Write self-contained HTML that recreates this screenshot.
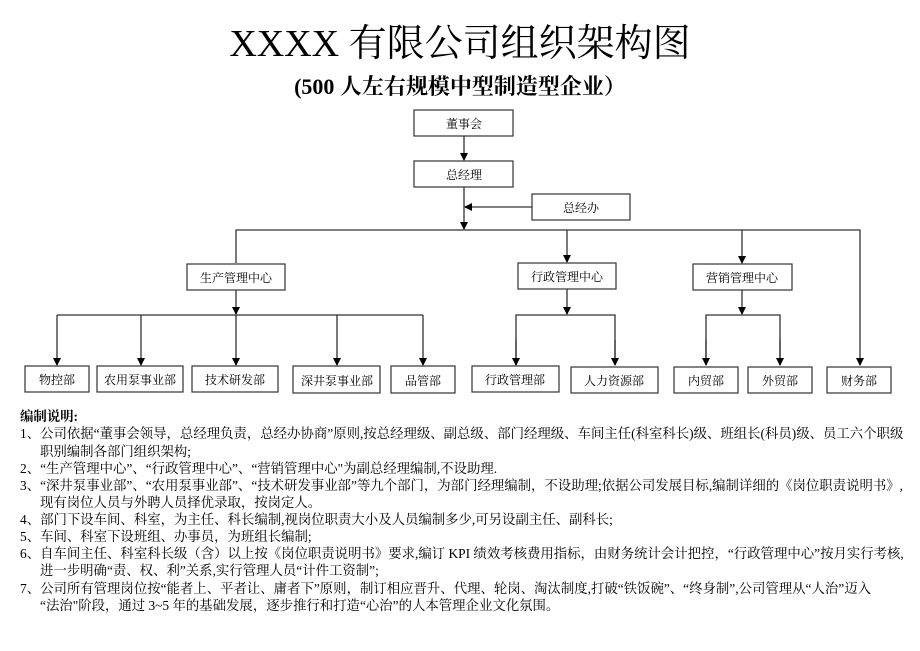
<!DOCTYPE html>
<html><head><meta charset="utf-8">
<style>
body{margin:0;background:#fff;width:920px;height:651px;position:relative;overflow:hidden;font-family:"Liberation Serif","Noto Serif CJK SC",serif;color:#000}
.t{position:absolute;left:0;width:920px;text-align:center}
.l{position:absolute;white-space:nowrap;font-size:13.4px;line-height:17px}
</style></head><body>
<div class="t" style="top:20px;font-size:38px;line-height:48px">XXXX 有限公司组织架构图</div>
<div class="t" style="top:72px;font-size:22px;font-weight:bold;line-height:30px">(500 人左右规模中型制造型企业）</div>
<svg width="920" height="400" style="position:absolute;left:0;top:0" font-family="Liberation Serif, Noto Serif CJK SC, serif" font-size="12">
<defs><marker id="a" markerWidth="8" markerHeight="8" refX="7" refY="4" orient="auto" markerUnits="userSpaceOnUse"><path d="M0,0L8,4L0,8z" fill="#000"/></marker></defs>
<g stroke="#333" stroke-width="1.3" fill="none">
<line x1="464" y1="136" x2="464" y2="160" marker-end="url(#a)"/>
<line x1="464" y1="187" x2="464" y2="229" marker-end="url(#a)"/>
<line x1="532" y1="207" x2="465" y2="207" marker-end="url(#a)"/>
<polyline points="236,263 236,230 860,230 860,365" marker-end="url(#a)"/>
<line x1="567" y1="230" x2="567" y2="262" marker-end="url(#a)"/>
<line x1="742" y1="230" x2="742" y2="263" marker-end="url(#a)"/>
<line x1="236" y1="290" x2="236" y2="314" marker-end="url(#a)"/>
<line x1="57" y1="315" x2="423" y2="315"/>
<line x1="57" y1="315" x2="57" y2="365" marker-end="url(#a)"/>
<line x1="141" y1="315" x2="141" y2="365" marker-end="url(#a)"/>
<line x1="236" y1="315" x2="236" y2="365" marker-end="url(#a)"/>
<line x1="337" y1="315" x2="337" y2="365" marker-end="url(#a)"/>
<line x1="423" y1="315" x2="423" y2="365" marker-end="url(#a)"/>
<line x1="567" y1="289" x2="567" y2="314" marker-end="url(#a)"/>
<polyline points="516,365 516,315 615,315 615,365"/>
<line x1="516" y1="340" x2="516" y2="365" marker-end="url(#a)"/>
<line x1="615" y1="340" x2="615" y2="365" marker-end="url(#a)"/>
<line x1="742" y1="290" x2="742" y2="314" marker-end="url(#a)"/>
<polyline points="706,365 706,315 780,315 780,365"/>
<line x1="706" y1="340" x2="706" y2="365" marker-end="url(#a)"/>
<line x1="780" y1="340" x2="780" y2="365" marker-end="url(#a)"/>
</g>
<g stroke="#333" stroke-width="1.2" fill="#fff">
<rect x="414" y="110" width="99" height="26"/>
<rect x="414" y="161" width="99" height="26"/>
<rect x="532" y="194" width="98" height="26"/>
<rect x="187" y="264" width="98" height="26"/>
<rect x="518" y="263" width="98" height="26"/>
<rect x="693" y="264" width="99" height="26"/>
<rect x="25" y="366" width="64" height="26"/>
<rect x="97" y="366" width="86" height="26"/>
<rect x="192" y="366" width="86" height="26"/>
<rect x="293" y="366" width="87" height="27"/>
<rect x="391" y="366" width="64" height="27"/>
<rect x="472" y="366" width="87" height="26"/>
<rect x="571" y="367" width="87" height="26"/>
<rect x="674" y="367" width="64" height="26"/>
<rect x="748" y="367" width="64" height="26"/>
<rect x="827" y="367" width="64" height="26"/>
</g>
<g text-anchor="middle" fill="#000">
<text x="464" y="128">董事会</text>
<text x="464" y="179">总经理</text>
<text x="581" y="212">总经办</text>
<text x="236" y="282">生产管理中心</text>
<text x="567" y="281">行政管理中心</text>
<text x="742" y="282">营销管理中心</text>
<text x="57" y="384">物控部</text>
<text x="140" y="384">农用泵事业部</text>
<text x="235" y="384">技术研发部</text>
<text x="337" y="385">深井泵事业部</text>
<text x="423" y="385">品管部</text>
<text x="515" y="384">行政管理部</text>
<text x="614" y="385">人力资源部</text>
<text x="706" y="385">内贸部</text>
<text x="780" y="385">外贸部</text>
<text x="859" y="385">财务部</text>
</g>
</svg>
<div class="l" style="left:20px;top:408px;font-weight:bold">编制说明:</div>
<div class="l" style="left:20px;top:425px">1、公司依据“董事会领导，总经理负责，总经办协商”原则,按总经理级、副总级、部门经理级、车间主任(科室科长)级、班组长(科员)级、员工六个职级</div>
<div class="l" style="left:40px;top:443px">职别编制各部门组织架构;</div>
<div class="l" style="left:20px;top:460px">2、“生产管理中心”、“行政管理中心”、“营销管理中心"为副总经理编制,不设助理.</div>
<div class="l" style="left:20px;top:477px">3、“深井泵事业部”、“农用泵事业部”、“技术研发事业部”等九个部门，为部门经理编制，不设助理;依据公司发展目标,编制详细的《岗位职责说明书》,</div>
<div class="l" style="left:40px;top:494px">现有岗位人员与外聘人员择优录取，按岗定人。</div>
<div class="l" style="left:20px;top:511px">4、部门下设车间、科室，为主任、科长编制,视岗位职责大小及人员编制多少,可另设副主任、副科长;</div>
<div class="l" style="left:20px;top:528px">5、车间、科室下设班组、办事员，为班组长编制;</div>
<div class="l" style="left:20px;top:545px">6、自车间主任、科室科长级（含）以上按《岗位职责说明书》要求,编订 KPI 绩效考核费用指标，由财务统计会计把控，“行政管理中心”按月实行考核,</div>
<div class="l" style="left:40px;top:562px">进一步明确“责、权、利”关系,实行管理人员“计件工资制”;</div>
<div class="l" style="left:20px;top:580px">7、公司所有管理岗位按“能者上、平者让、庸者下”原则，制订相应晋升、代理、轮岗、淘汰制度,打破“铁饭碗”、“终身制”,公司管理从“人治”迈入</div>
<div class="l" style="left:40px;top:597px">“法治"阶段，通过 3~5 年的基础发展，逐步推行和打造“心治”的人本管理企业文化氛围。</div>
</body></html>
